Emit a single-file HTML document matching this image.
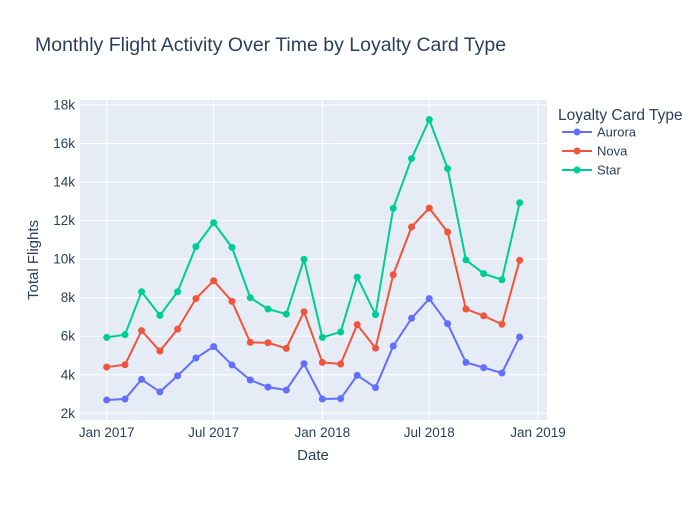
<!DOCTYPE html>
<html><head><meta charset="utf-8"><style>
body{margin:0;background:#fff;font-family:"Liberation Sans",sans-serif;}
svg text{font-family:"Liberation Sans",sans-serif;fill:#2a3f5f;}
</style></head><body>
<svg id="chart" width="700" height="500">
<rect width="700" height="500" fill="#fff"/>
<rect x="80" y="100" width="467" height="320" fill="#e5ecf6"/>
<g id="grid"></g><g id="series"></g><g id="axes"></g>
<text x="35" y="51" font-size="19.5">Monthly Flight Activity Over Time by Loyalty Card Type</text>
<text x="313" y="460" font-size="15" text-anchor="middle">Date</text>
<text transform="translate(38,260) rotate(-90)" font-size="15" text-anchor="middle">Total Flights</text>
<g>
<text x="558" y="120" font-size="15.5">Loyalty Card Type</text>
<g id="legend"></g>
</g>
</svg>
<script>
const months = ["2017-01","2017-02","2017-03","2017-04","2017-05","2017-06","2017-07","2017-08","2017-09","2017-10","2017-11","2017-12","2018-01","2018-02","2018-03","2018-04","2018-05","2018-06","2018-07","2018-08","2018-09","2018-10","2018-11","2018-12"];
const auroraValues = [2690,2740,3760,3110,3950,4870,5460,4510,3730,3360,3210,4570,2740,2760,3970,3330,5490,6930,7950,6650,4640,4370,4090,5960];
const novaValues = [4400,4520,6290,5230,6370,7950,8880,7810,5680,5660,5370,7270,4640,4560,6600,5380,9190,11670,12650,11410,7410,7060,6620,9940];
const starValues = [5940,6080,8310,7080,8310,10650,11890,10610,8000,7410,7150,9990,5940,6220,9070,7120,12640,15220,17240,14700,9960,9250,8930,12930];
const seriesNames = ["Aurora","Nova","Star"];
const seriesColors = ["#636efa","#ef553b","#00cc96"];
const yTicks = [2000,4000,6000,8000,10000,12000,14000,16000,18000];
const yTickLabels = ["2k","4k","6k","8k","10k","12k","14k","16k","18k"];
const xTicks = ["2017-01-01","2017-07-01","2018-01-01","2018-07-01","2019-01-01"];
const xTickLabels = ["Jan 2017","Jul 2017","Jan 2018","Jul 2018","Jan 2019"];

const NS="http://www.w3.org/2000/svg";
const t0=Date.UTC(2017,0,1), day=86400000;
function xs(d){const p=d.split("-");const t=Date.UTC(+p[0],+p[1]-1,p[2]?+p[2]:1);return 106.7+(t-t0)/day*0.5908;}
function ys(v){return 413.3-(v-2000)*308.3/16000;}
function mk(tag,attrs,parent){const e=document.createElementNS(NS,tag);for(const k in attrs)e.setAttribute(k,attrs[k]);parent.appendChild(e);return e;}
const grid=document.getElementById("grid"),axes=document.getElementById("axes"),ser=document.getElementById("series"),leg=document.getElementById("legend");
yTicks.forEach((v,i)=>{
 const l=mk("line",{x1:80,x2:547,y1:ys(v),y2:ys(v),stroke:"#fff","stroke-width":1},grid);
 
 
 const t=mk("text",{x:75,y:ys(v)+4.5,"font-size":13.5,"text-anchor":"end"},axes);t.textContent=yTickLabels[i];
 
 
});
xTicks.forEach((d,i)=>{
 const l=mk("line",{x1:xs(d),x2:xs(d),y1:100,y2:420,stroke:"#fff","stroke-width":1},grid);
 
 
 const t=mk("text",{x:xs(d),y:437,"font-size":13.5,"text-anchor":"middle"},axes);t.textContent=xTickLabels[i];
 
 
});
[auroraValues,novaValues,starValues].forEach((vals,si)=>{
 const g=mk("g",{},ser);
 
 
 const pts=vals.map((v,i)=>xs(months[i])+","+ys(v)).join(" ");
 const pl=mk("polyline",{points:pts,fill:"none",stroke:seriesColors[si],"stroke-width":2},g);
 
 
 vals.forEach((v,i)=>{
  const c=mk("circle",{cx:xs(months[i]),cy:ys(v),r:3.5,fill:seriesColors[si]},g);
  
  
 });
 const y=132+si*19;
 const le=mk("g",{},leg);
 
 
 mk("line",{x1:562,x2:592,y1:y,y2:y,stroke:seriesColors[si],"stroke-width":2},le);
 mk("circle",{cx:577,cy:y,r:3.5,fill:seriesColors[si]},le);
 const t=mk("text",{x:597,y:y+4.5,"font-size":13},le);t.textContent=seriesNames[si];
});
</script>
</body></html>
